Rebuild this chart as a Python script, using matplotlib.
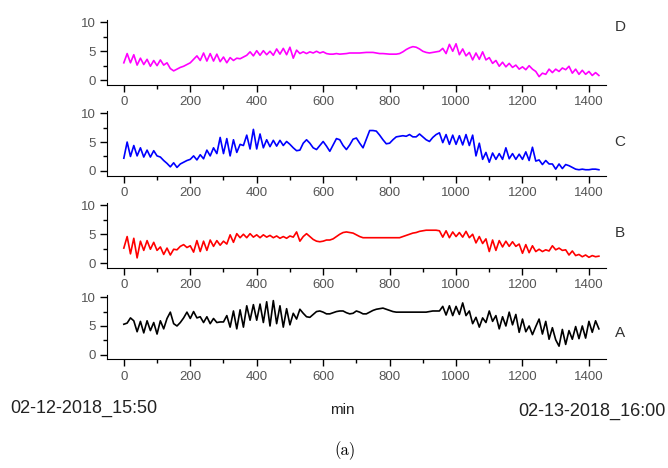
import numpy as np
import matplotlib
matplotlib.use('Agg')
import matplotlib.pyplot as plt
from matplotlib.ticker import MultipleLocator

# Data: one reading every 10 min over the day (0 .. 1430 min)
minutes = np.arange(0, 1440, 10)

sensor_d = [3.0, 4.6, 3.0, 4.4, 2.6, 3.8, 2.7, 3.6, 2.4, 3.4,
            2.5, 3.5, 2.6, 3.0, 2.0, 1.6, 1.9, 2.2, 2.4, 2.7,
            3.0, 3.6, 4.2, 3.4, 4.7, 3.3, 4.6, 3.3, 4.5, 3.2,
            4.0, 3.0, 3.9, 3.4, 3.8, 3.7, 4.0, 4.3, 4.9, 4.2,
            5.1, 4.3, 5.1, 4.4, 5.0, 4.3, 5.4, 4.5, 5.5, 4.4,
            5.7, 3.8, 5.2, 4.6, 4.9, 4.6, 4.9, 4.7, 5.0, 4.7,
            4.9, 4.6, 4.5, 4.5, 4.6, 4.5, 4.55, 4.6, 4.7, 4.7,
            4.7, 4.7, 4.75, 4.8, 4.8, 4.8, 4.7, 4.6, 4.6, 4.55,
            4.5, 4.5, 4.5, 4.6, 4.9, 5.3, 5.6, 5.8, 5.7, 5.4,
            5.0, 4.8, 4.7, 4.8, 4.9, 5.0, 5.5, 4.6, 6.2, 5.0,
            6.3, 4.4, 5.4, 4.2, 4.8, 3.5, 4.7, 3.6, 4.9, 3.5,
            3.9, 2.9, 3.4, 2.4, 3.1, 2.3, 2.9, 2.2, 2.6, 1.9,
            2.3, 1.8, 2.5, 1.9, 1.5, 0.6, 1.2, 1.0, 1.9, 1.3,
            1.9, 1.5, 2.1, 1.8, 2.4, 1.2, 1.9, 1.0, 1.7, 1.0,
            1.5, 0.8, 1.3, 0.8]

sensor_c = [2.2, 5.0, 2.5, 4.4, 2.6, 4.0, 2.4, 3.6, 2.4, 3.5,
            2.6, 2.4, 1.8, 1.3, 0.7, 1.4, 0.6, 1.2, 1.5, 1.8,
            2.0, 2.6, 1.9, 2.8, 2.1, 3.6, 2.6, 4.0, 3.0, 5.8,
            3.0, 5.6, 2.6, 5.4, 3.2, 4.6, 4.4, 6.2, 3.8, 7.2,
            3.8, 6.4, 4.0, 5.4, 4.2, 5.3, 4.3, 5.3, 4.4, 5.1,
            4.6, 4.0, 3.5, 3.6, 4.8, 5.4, 4.8, 4.0, 3.7, 4.4,
            5.1, 4.3, 3.4, 4.5, 5.6, 5.4, 4.4, 3.7, 4.5, 5.5,
            5.7, 4.8, 4.0, 5.5, 7.0, 7.0, 6.9, 6.2, 5.4, 4.7,
            4.8, 5.4, 5.9, 6.0, 6.1, 6.0, 6.3, 5.9, 5.9, 6.4,
            5.9, 5.4, 5.1, 5.8, 6.3, 6.6, 4.9, 6.3, 4.6, 6.2,
            4.6, 6.1, 4.5, 6.3, 4.4, 6.2, 2.6, 4.8, 2.0, 3.2,
            1.5, 3.1, 2.0, 3.0, 2.0, 4.0, 2.1, 3.0, 2.0, 2.9,
            2.0, 3.3, 1.8, 4.1, 1.7, 1.9, 1.1, 1.8, 1.2, 1.2,
            0.3, 1.2, 0.4, 1.1, 0.9, 0.6, 0.3, 0.2, 0.3, 0.2,
            0.2, 0.3, 0.3, 0.2]

sensor_b = [2.6, 4.6, 1.6, 4.3, 0.9, 3.8, 2.2, 3.9, 2.4, 3.6,
            2.2, 2.8, 1.5, 2.6, 1.4, 2.4, 2.3, 2.9, 3.2, 2.7,
            3.0, 1.9, 3.9, 2.0, 3.8, 2.2, 4.0, 2.9, 3.9, 3.1,
            3.8, 3.3, 4.9, 3.6, 5.1, 4.4, 5.0, 4.4, 5.1, 4.5,
            4.9, 4.4, 4.9, 4.5, 4.8, 4.4, 4.7, 4.3, 4.6, 4.3,
            4.7, 4.5, 5.4, 3.8, 4.6, 5.1, 4.6, 4.1, 3.8, 3.7,
            3.8, 4.0, 4.0, 4.2, 4.6, 5.0, 5.3, 5.4, 5.3, 5.2,
            4.9, 4.6, 4.4, 4.4, 4.4, 4.4, 4.4, 4.4, 4.4, 4.4,
            4.4, 4.4, 4.4, 4.4, 4.6, 4.8, 5.0, 5.2, 5.3, 5.5,
            5.6, 5.7, 5.7, 5.7, 5.7, 5.6, 4.5, 5.6, 4.4, 5.4,
            4.6, 5.3, 4.5, 5.5, 4.4, 5.0, 3.5, 4.6, 3.4, 4.2,
            2.0, 4.0, 2.2, 3.9, 2.8, 3.8, 2.9, 3.7, 2.9, 3.3,
            1.7, 3.2, 1.8, 3.0, 2.0, 2.4, 2.0, 2.3, 2.1, 3.0,
            2.3, 2.6, 2.2, 2.3, 1.4, 2.1, 1.3, 1.5, 1.1, 1.4,
            1.0, 1.3, 1.1, 1.2]

sensor_a = [5.3, 5.5, 6.4, 5.9, 4.0, 5.8, 3.8, 5.9, 4.2, 5.6,
            3.6, 5.9, 4.5, 6.3, 7.4, 5.4, 5.0, 5.6, 6.4, 7.4,
            6.3, 7.5, 6.4, 6.6, 5.6, 6.6, 5.4, 6.3, 5.6, 5.7,
            5.7, 6.8, 4.8, 7.6, 4.5, 7.8, 4.8, 8.5, 6.0, 8.7,
            6.0, 8.8, 5.6, 9.2, 5.0, 9.4, 5.4, 8.5, 4.8, 8.0,
            5.2, 7.2, 6.2, 7.9, 7.2, 6.6, 6.5, 7.0, 7.5, 7.6,
            7.4, 7.1, 7.1, 7.3, 7.5, 7.6, 7.6, 7.3, 7.1, 7.2,
            7.6, 7.4, 7.1, 7.1, 7.4, 7.7, 7.9, 8.0, 8.1, 7.9,
            7.7, 7.5, 7.4, 7.4, 7.4, 7.4, 7.4, 7.4, 7.4, 7.4,
            7.4, 7.4, 7.5, 7.6, 7.6, 7.6, 8.4, 6.9, 8.5, 6.8,
            8.4, 7.0, 9.0, 6.8, 7.6, 5.4, 6.5, 4.8, 6.4, 5.6,
            7.6, 5.8, 6.8, 4.5, 6.6, 5.0, 7.4, 5.2, 7.0, 3.9,
            6.2, 4.0, 5.0, 3.5, 4.9, 6.2, 3.6, 5.8, 2.7, 4.7,
            2.6, 1.5, 4.4, 1.8, 4.2, 2.7, 4.9, 2.8, 5.0, 2.9,
            5.8, 3.9, 5.9, 4.5]

panels = [('D', sensor_d, '#ff00ff'),
          ('C', sensor_c, '#0000ff'),
          ('B', sensor_b, '#ff0000'),
          ('A', sensor_a, '#000000')]

# axes bottoms (figure fraction) and label heights, top to bottom
bottoms = [0.819, 0.625, 0.428, 0.232]
label_y = [0.942, 0.697, 0.502, 0.288]

fig = plt.figure(figsize=(6.68, 4.68), dpi=100)

for (name, vals, col), b, ly in zip(panels, bottoms, label_y):
    ax = fig.add_axes([0.160, b, 0.747, 0.138])
    ax.plot(minutes, vals, color=col, linewidth=1.2)
    ax.set_xlim(-51, 1451)
    ax.set_ylim(-0.8, 10.4)
    ax.xaxis.set_major_locator(MultipleLocator(200))
    ax.xaxis.set_minor_locator(MultipleLocator(100))
    ax.yaxis.set_major_locator(MultipleLocator(5))
    ax.yaxis.set_minor_locator(MultipleLocator(2.5))
    ax.spines['top'].set_visible(False)
    ax.spines['right'].set_visible(False)
    ax.tick_params(which='major', direction='out', length=5, width=1,
                   labelsize=9.5, labelcolor='#555555', pad=3)
    ax.tick_params(which='minor', direction='out', length=3, width=1)
    for lab in ax.get_xticklabels() + ax.get_yticklabels():
        lab.set_family('Liberation Sans')
    fig.text(0.928, ly, name, ha='center', va='center', fontsize=11,
             color='#333333', family='Liberation Sans')

fig.text(0.015, 0.128, '02-12-2018_15:50', ha='left', va='center',
         fontsize=13, color='#222222', family='Liberation Sans')
fig.text(0.513, 0.124, 'min', ha='center', va='center',
         fontsize=11, color='#222222', family='Liberation Sans')
fig.text(0.996, 0.120, '02-13-2018_16:00', ha='right', va='center',
         fontsize=13, color='#222222', family='Liberation Sans')
fig.text(0.516, 0.038, '(a)', ha='center', va='center',
         fontsize=12, color='#000000', family='cmr10')

fig.savefig('out.png', dpi=100)
